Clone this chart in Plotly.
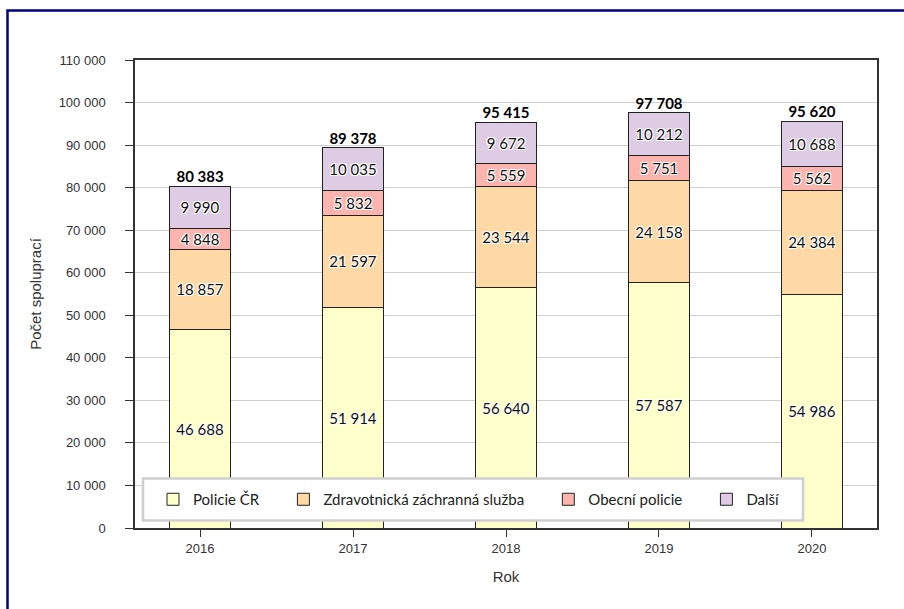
import plotly.graph_objects as go

years = ["2016", "2017", "2018", "2019", "2020"]
policie_cr = [46688, 51914, 56640, 57587, 54986]
zachranna = [18857, 21597, 23544, 24158, 24384]
obecni = [4848, 5832, 5559, 5751, 5562]
dalsi = [9990, 10035, 9672, 10212, 10688]
totals = [80383, 89378, 95415, 97708, 95620]

series_names = ["Policie ČR", "Zdravotnická záchranná služba", "Obecní policie", "Další"]
series_values = [policie_cr, zachranna, obecni, dalsi]
series_colors = ["#FFFFCC", "#FED9A6", "#FBB4AE", "#DECBE4"]
legend_pad = [5, 5, 5, 0]

halo = "1px 1px 0 #fff, -1px -1px 0 #fff, 1px -1px 0 #fff, -1px 1px 0 #fff"
label_font = "Lato, Liberation Sans, sans-serif"

fig = go.Figure()
for name, vals, col, pad in zip(series_names, series_values, series_colors, legend_pad):
    fig.add_trace(go.Bar(
        x=years, y=vals, name=name + "\u00a0" * pad,
        marker=dict(color=col, line=dict(color="#222", width=1)),
        width=0.4,
        texttemplate="%{y:,}", textposition="inside", insidetextanchor="middle",
        textangle=0, constraintext="none",
        textfont=dict(family=label_font, size=15, color="#111", shadow=halo),
        hoverinfo="skip",
    ))

fig.add_trace(go.Scatter(
    x=years, y=totals, mode="text", texttemplate="%{y:,}", textposition="top center",
    textfont=dict(family=label_font, size=15, color="#000", weight="bold"),
    showlegend=False, hoverinfo="skip",
))

PL, PR, PT, PB = 135, 877, 60, 528.5
W, H = 904, 609
pw, ph = PR - PL, PB - PT

def px_x(x):
    return (x - PL) / pw

def px_y(y):
    return (PB - y) / ph

fig.update_layout(
    width=W, height=H,
    barmode="stack",
    separators=", ",
    paper_bgcolor="white", plot_bgcolor="white",
    margin=dict(l=PL, r=W - PR, t=PT, b=H - PB, autoexpand=False),
    font=dict(family="Liberation Sans, Arial", color="#333", size=13),
    legend=dict(
        orientation="h", x=px_x(153), y=px_y(500), xanchor="left", yanchor="middle",
        bgcolor="rgba(0,0,0,0)", borderwidth=0,
        font=dict(family=label_font, size=15, color="#222"),
        traceorder="normal",
    ),
    shapes=[
        dict(type="rect", xref="paper", yref="paper",
             x0=px_x(7.5), x1=1.2, y0=-0.3, y1=px_y(10.5),
             line=dict(color="#000080", width=2.5), fillcolor="rgba(0,0,0,0)"),
        dict(type="rect", xref="paper", yref="paper", layer="above",
             x0=px_x(143), x1=px_x(803), y0=px_y(521), y1=px_y(479),
             line=dict(color="#CFCFCF", width=2.5), fillcolor="white"),
    ],
)

fig.update_xaxes(
    type="category", range=[-0.425, 4.425],
    showline=True, linecolor="#333", linewidth=1.5, mirror=True,
    ticks="outside", ticklen=7, tickcolor="#333",
    showgrid=False, ticklabelstandoff=1,
    title=dict(text="Rok", font=dict(size=15, color="#333"), standoff=16),
    tickfont=dict(size=13, color="#333"),
)
fig.update_yaxes(
    range=[0, 110000], tickvals=list(range(0, 110001, 10000)), tickformat=",d",
    showline=True, linecolor="#333", linewidth=1.5, mirror=True,
    ticks="outside", ticklen=8, tickcolor="#333",
    showgrid=True, gridcolor="#D0D0D0", gridwidth=1,
    zeroline=False,
    ticklabelstandoff=17,
    title=dict(text="Počet spoluprací", font=dict(size=15, color="#333"), standoff=13),
    tickfont=dict(size=13, color="#333"),
)

fig.write_html("out.html", config={"displayModeBar": False},
               post_script="document.body.style.margin='0';document.body.style.padding='0';")
